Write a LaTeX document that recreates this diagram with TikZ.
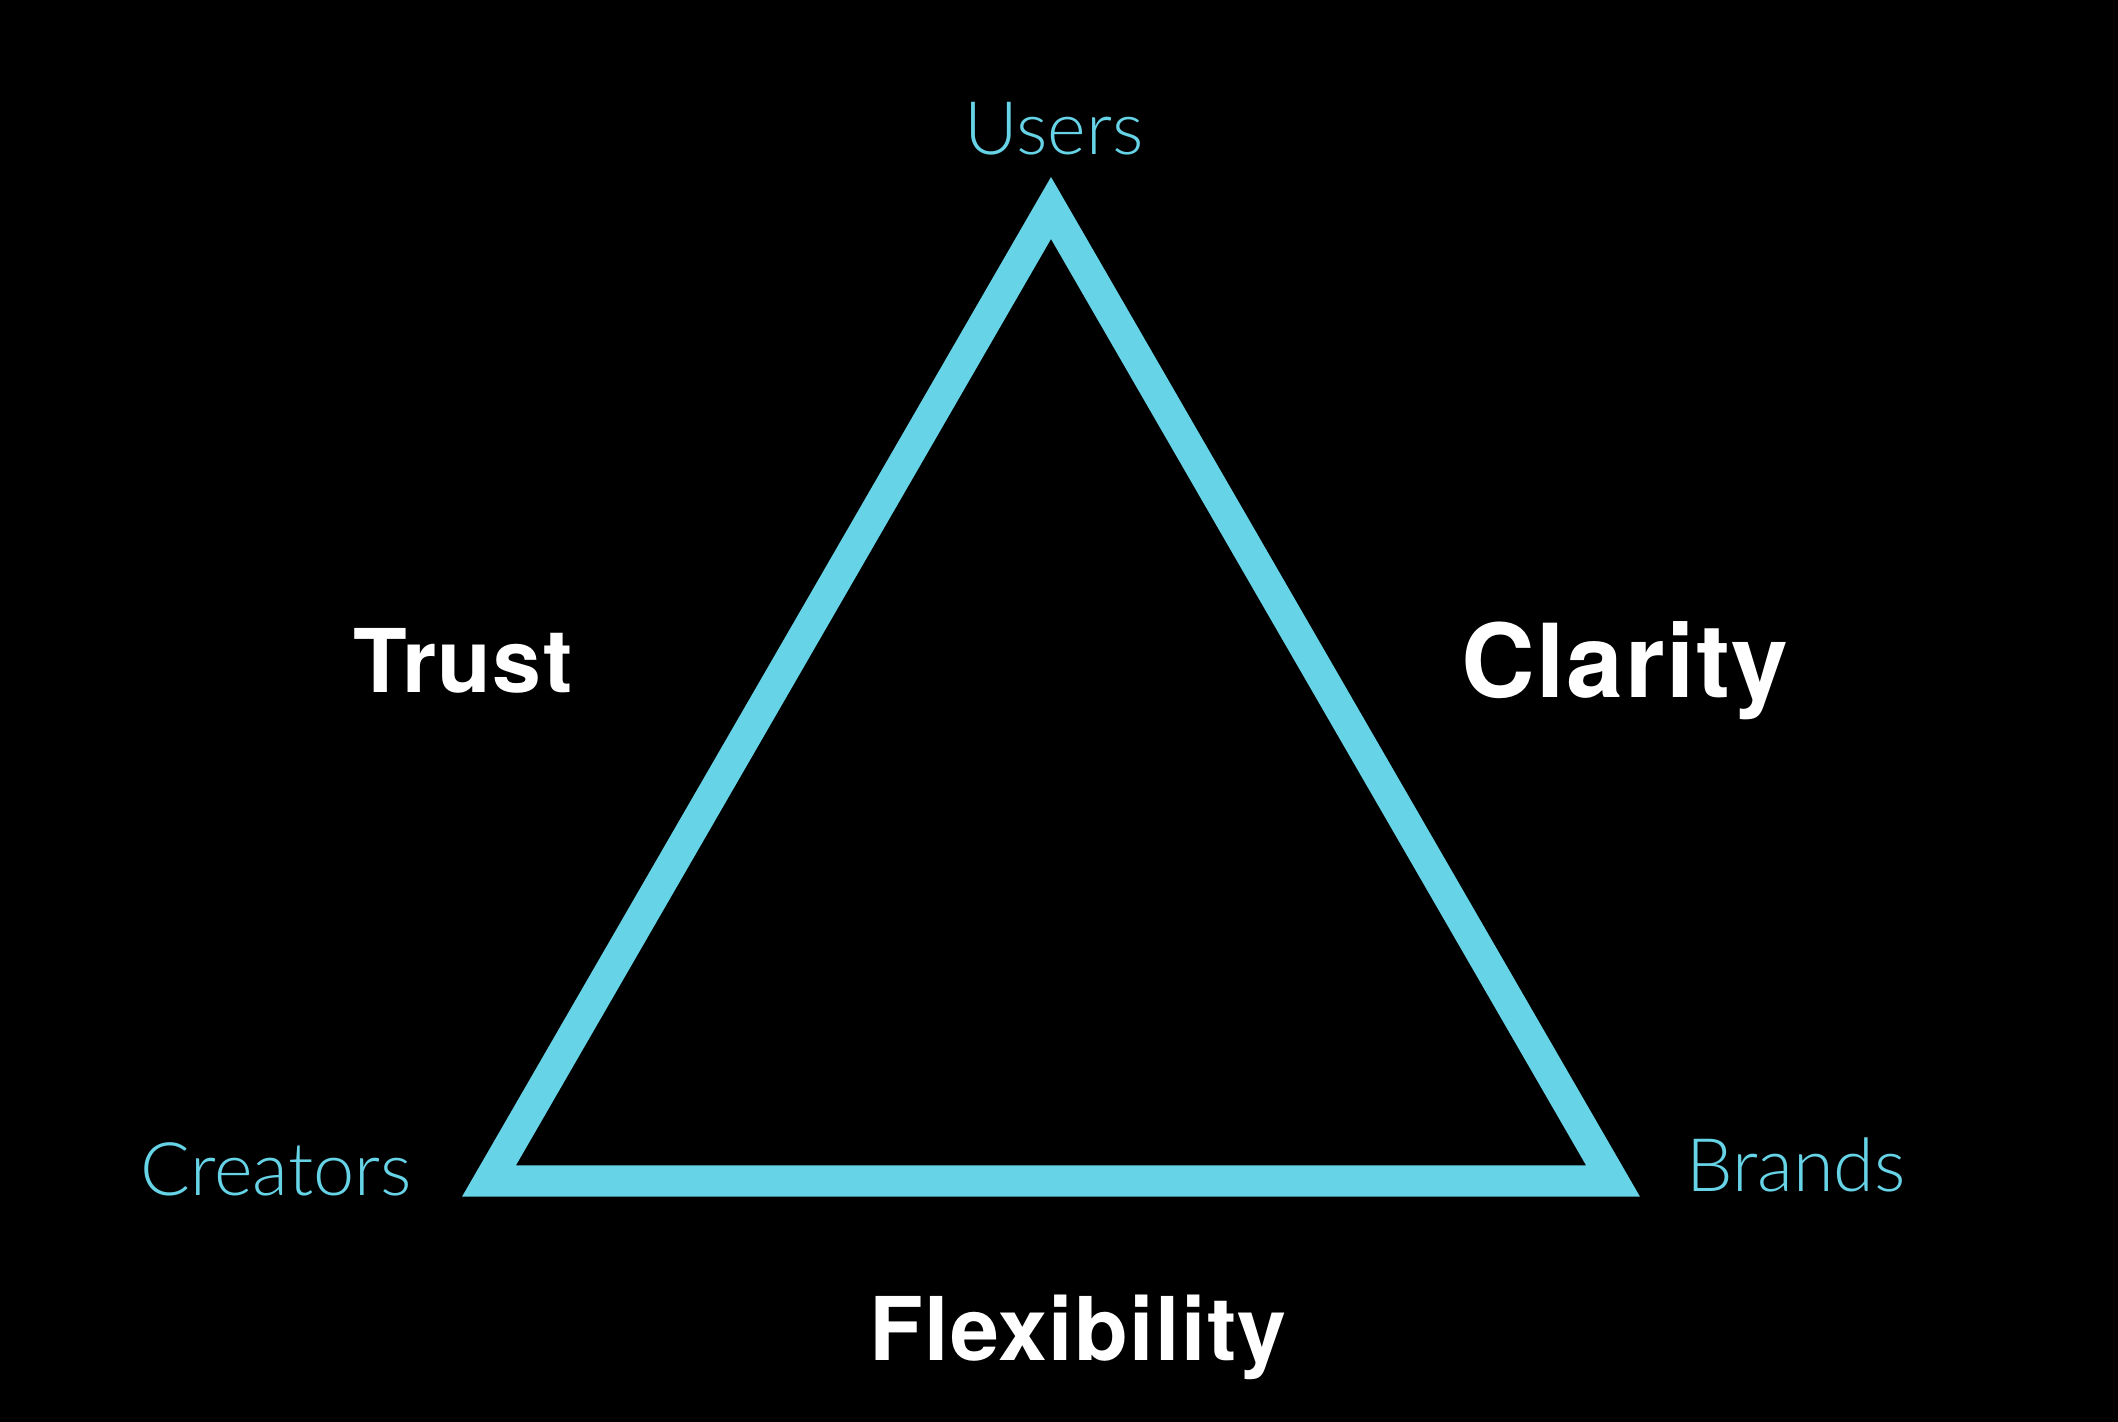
\documentclass[tikz,border=0pt]{standalone}
\usepackage{fontspec}
\setmainfont{TeX Gyre Heros}[LetterSpace=1.5]
\newfontfamily\thinfont{Lato Light}
\usepackage{tikz}
\usetikzlibrary{positioning}
\definecolor{tricyan}{HTML}{66D3E6}

\begin{document}
\begin{tikzpicture}[x=0.01cm, y=-0.01cm,
    corner/.style={anchor=base, text=tricyan, font=\thinfont\fontsize{21}{24}\selectfont},
    value/.style={anchor=base, text=white, font=\bfseries\fontsize{25}{30}\selectfont}]
    % Background
    \fill[black] (0,0) rectangle (2118,1422);

    % Triangle corners
    \coordinate (top) at (1051,208);
    \coordinate (left) at (489,1181);
    \coordinate (right) at (1613,1181);

    % Triangle
    \draw[tricyan, line width=0.31cm, miter limit=4, line join=miter] (top) -- (left) -- (right) -- cycle;

    % Corner labels
    \node[corner] (users) at (1054,155) {Users};
    \node[corner] (creators) at (276,1195) {Creators};
    \node[corner] (brands) at (1796,1191) {Brands};

    % Side labels
    \node[value] (trust) at (463,693) {Trust};
    \node[value, font=\bfseries\fontsize{29}{34}\selectfont] (clarity) at (1625,698) {Clarity};
    \node[value] (flex) at (1078,1360) {Flexibility};
\end{tikzpicture}
\end{document}
